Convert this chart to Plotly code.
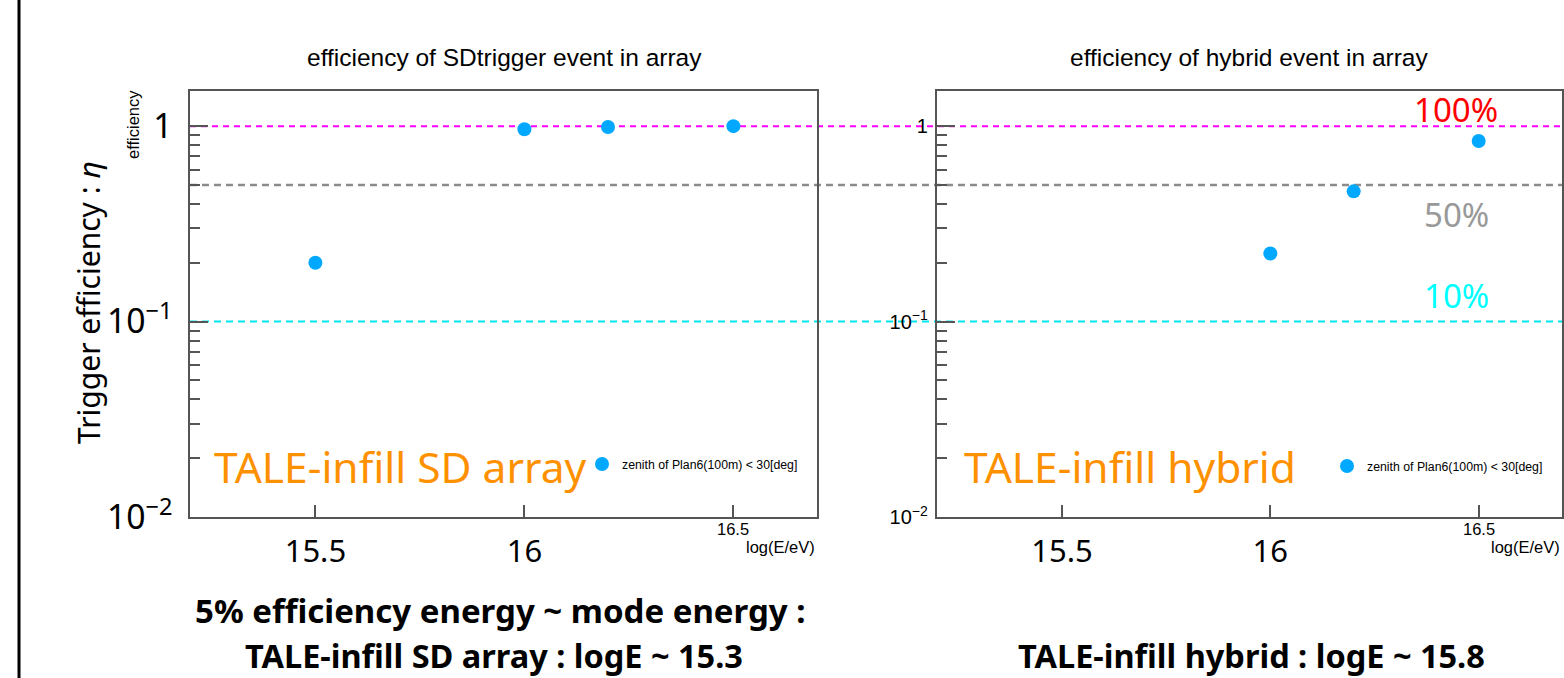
import plotly.graph_objects as go

W, H = 1564, 678

# ---- data ----
sd_logE = [15.5, 16.0, 16.2, 16.5]
sd_eff = [0.20, 0.965, 0.99, 1.0]
hy_logE = [16.0, 16.2, 16.5]
hy_eff = [0.223, 0.464, 0.84]
legend_label = "zenith of Plan6(100m) < 30[deg]"
ref_levels = [1.0, 0.5, 0.1]
ref_colors = ["#ff00ff", "#8c8c8c", "#00e5ee"]
ref_texts = ["100%", "50%", "10%"]
ref_text_colors = ["#ff0000", "#999999", "#00ffff"]
x_tickvals = [15.5, 16.0, 16.5]
x_ticktext = ["15.5", "16", ""]
x_range = [15.2, 16.7]
y_range_log = [-2, 0.18]


def px(x):
    return x / W


def py(y):
    return 1 - y / H


ROOT = "Liberation Sans, Arial, sans-serif"
BIG = "Noto Sans, sans-serif"
MARK = "#00a8ff"

fig = go.Figure()
fig.add_trace(go.Scatter(x=sd_logE, y=sd_eff, mode="markers", name=legend_label,
                         marker=dict(color=MARK, size=14), xaxis="x", yaxis="y",
                         legend="legend"))
fig.add_trace(go.Scatter(x=hy_logE, y=hy_eff, mode="markers", name=legend_label,
                         marker=dict(color=MARK, size=14), xaxis="x2", yaxis="y2",
                         legend="legend2"))

L_dom = [px(190), px(817)]
R_dom = [px(937), px(1562)]
Y_dom = [py(517), py(91)]

axis_common = dict(showline=True, linecolor="#555555", linewidth=2, mirror=True,
                   showgrid=False, zeroline=False, automargin=False)

xcommon = dict(range=x_range, tickmode="array", tickvals=x_tickvals, ticktext=x_ticktext,
               ticks="inside", ticklen=12, tickwidth=1.5, tickcolor="#555555",
               tickfont=dict(family=BIG, size=31, color="black"),
               ticklabelstandoff=6, **axis_common)

fig.update_layout(
    width=W, height=H, autosize=False,
    margin=dict(l=0, r=0, t=0, b=0, pad=0, autoexpand=False),
    paper_bgcolor="white", plot_bgcolor="rgba(0,0,0,0)",
    showlegend=True,
    xaxis=dict(domain=L_dom, anchor="y", **xcommon),
    xaxis2=dict(domain=R_dom, anchor="y2", **xcommon),
    yaxis=dict(domain=Y_dom, anchor="x", type="log", range=y_range_log,
               tickmode="linear", tick0=0, dtick=1, exponentformat="power",
               ticks="inside", ticklen=18, tickwidth=1.5, tickcolor="#555555",
               tickfont=dict(family=BIG, size=27, color="black"),
               ticklabelstandoff=10,
               minor=dict(ticks="inside", ticklen=10, dtick="D1", tickcolor="#555555",
                          tickwidth=1.5, showgrid=False),
               **axis_common),
    yaxis2=dict(domain=Y_dom, anchor="x2", type="log", range=y_range_log,
                tickmode="linear", tick0=0, dtick=1, exponentformat="power",
                ticks="inside", ticklen=18, tickwidth=1.5, tickcolor="#555555",
                tickfont=dict(family=ROOT, size=16, color="black"),
                ticklabelstandoff=4,
                minor=dict(ticks="inside", ticklen=10, dtick="D1", tickcolor="#555555",
                           tickwidth=1.5, showgrid=False),
                **axis_common),
    legend=dict(x=px(582), y=py(464), xanchor="left", yanchor="middle",
                bgcolor="rgba(0,0,0,0)", font=dict(family=ROOT, size=12.3, color="black"),
                itemwidth=30),
    legend2=dict(x=px(1327), y=py(466), xanchor="left", yanchor="middle",
                 bgcolor="rgba(0,0,0,0)", font=dict(family=ROOT, size=12.3, color="black"),
                 itemwidth=30),
)

shapes = []
dashes = ["6px,5px", "7px,5px", "7px,5px"]
widths = [2, 2.5, 2]
for lvl, col, d, w in zip(ref_levels, ref_colors, dashes, widths):
    shapes.append(dict(type="line", xref="paper", yref="y", x0=px(190), x1=px(1562),
                       y0=lvl, y1=lvl, line=dict(color=col, width=w, dash=d), layer="below"))
# left black bar
shapes.append(dict(type="line", xref="paper", yref="paper", x0=px(19), x1=px(19), y0=0, y1=1,
                   line=dict(color="black", width=3)))
fig.update_layout(shapes=shapes)

ann = []


def A(text, x, y, size, family=ROOT, color="black", xanchor="center", angle=0, **kw):
    ann.append(dict(text=text, x=px(x), y=py(y), xref="paper", yref="paper", showarrow=False,
                    xanchor=xanchor, yanchor="middle", textangle=angle,
                    font=dict(family=family, size=size, color=color), **kw))


A("efficiency of SDtrigger event in array", 504, 58, 24.5)
A("efficiency of hybrid event in array", 1249, 58, 24.5)
A("efficiency", 133, 125, 16.5, angle=-90)
A("Trigger efficiency : <i>η</i>", 89, 303, 30, family=BIG, angle=-90)

# small 16.5 tick labels and axis titles
for xa, rightpx in (("x", 817), ("x2", 1562)):
    ann.append(dict(text="16.5", x=x_tickvals[2], y=py(529), xref=xa, yref="paper",
                    showarrow=False, xanchor="center", yanchor="middle",
                    font=dict(family=ROOT, size=16.5, color="black")))
    A("log(E/eV)", rightpx, 547, 16.5, xanchor="right")

A("TALE-infill SD array", 212, 466, 42.5, family=BIG, color="#ff9100", xanchor="left")
A("TALE-infill hybrid", 962, 466, 42.5, family=BIG, color="#ff9100", xanchor="left")

for t, c, yy in zip(ref_texts, ref_text_colors, [110, 215, 296]):
    A(t, 1456, yy, 33, family=BIG, color=c)

A("<b>5% efficiency energy ~ mode energy :</b>", 500, 610, 33, family=BIG)
A("<b>TALE-infill SD array : logE ~ 15.3</b>", 494, 655, 32.5, family=BIG)
A("<b>TALE-infill hybrid : logE ~ 15.8</b>", 1251, 655, 32.5, family=BIG)

fig.update_layout(annotations=ann)

fig.write_html("out.html",
               config={"responsive": False, "displayModeBar": False},
               post_script="document.body.style.margin='0';document.body.style.overflow='hidden';")
